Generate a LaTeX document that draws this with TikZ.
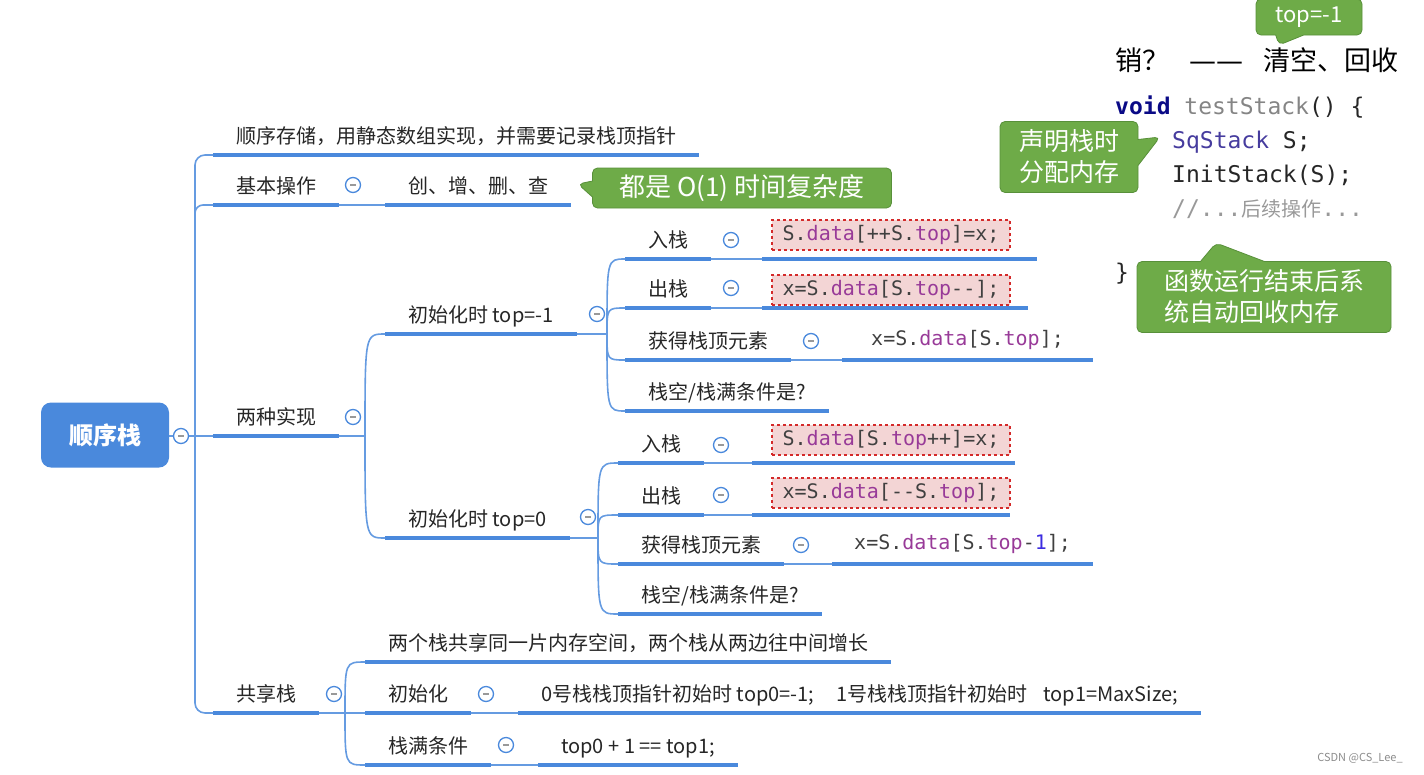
\documentclass[tikz,border=0pt]{standalone}
\usepackage{fontspec}
\setmainfont{Noto Sans CJK SC}
\newfontfamily\cjk{Noto Sans CJK SC}
\newfontfamily\dashfont{DejaVu Sans}
\newfontfamily\codefont[Ligatures=TeXOff]{DejaVu Sans Mono}
\usetikzlibrary{shapes.callouts}

\definecolor{mapblue}{HTML}{4A89DC}
\definecolor{notegreen}{HTML}{6EAB48}
\definecolor{noteedge}{HTML}{58903A}
\definecolor{boxpink}{HTML}{F3D5D5}
\definecolor{boxred}{HTML}{D42A2A}
\definecolor{kwpurple}{HTML}{983A98}
\definecolor{numblue}{HTML}{3C2CE0}
\definecolor{kwnavy}{HTML}{0A0A86}
\definecolor{typepurple}{HTML}{463C9E}
\definecolor{codegray}{HTML}{858585}

\newcommand\kwd[1]{\textcolor{kwpurple}{#1}}

\begin{document}
\begin{tikzpicture}[x=1pt,y=-1pt,
	under/.style={draw=mapblue, line width=4.5pt},
	link/.style={draw=mapblue!85, line width=1.6pt},
	root/.style={rounded corners=10pt, fill=mapblue, text=white, minimum width=128pt, minimum height=65pt, font=\bfseries\fontsize{24pt}{28pt}\selectfont},
	topic/.style={anchor=south west, inner xsep=23pt, inner ysep=7.5pt, text height=15pt, text depth=4pt, text=black!85, font=\fontsize{20pt}{24pt}\selectfont, append after command={(\tikzlastnode.south west) edge[under] (\tikzlastnode.south east)}},
	codetopic/.style={topic, font=\codefont\fontsize{20pt}{24pt}\selectfont, inner xsep=27pt, inner ysep=9pt, text height=14pt, text depth=5pt, text=black!75},
	codebox/.style={draw=boxred, dashed, line width=1.1pt, fill=boxpink, minimum width=238pt, minimum height=30pt, inner sep=0pt, text height=14pt, text depth=4pt, text=black!75, font=\codefont\fontsize{20pt}{24pt}\selectfont},
	fold/.style={circle, draw=mapblue, line width=1.3pt, fill=white, minimum size=15pt, inner sep=0pt, path picture={\draw[black!40, line width=1.3pt] ([xshift=-3pt]path picture bounding box.center) -- ([xshift=3pt]path picture bounding box.center);}},
	note/.style={rectangle callout, fill=notegreen, draw=noteedge, line width=0.8pt, rounded corners=5pt, text=white, align=left, inner xsep=12pt, inner ysep=3pt, font=\fontsize{25pt}{31pt}\selectfont},
	codeline/.style={anchor=base west, inner sep=0pt, text=black!85, font=\codefont\fontsize{23pt}{28pt}\selectfont}
	]
	\useasboundingbox (0,0) rectangle (1424,774);
	
	% root and main trunk
	\node[root] (root) at (105,435) {顺序栈};
	\coordinate (trunk) at (195,436);
	
	\node[topic] (store) at (213,155) {顺序存储，用静态数组实现，并需要记录栈顶指针};
	\node[topic] (basic) at (213,205) {基本操作};
	\node[topic] (impl) at (213,436) {两种实现};
	\node[topic] (share) at (213,713) {共享栈};
	
	\draw[link, rounded corners=10pt] (store.south west) -| (trunk) |- (share.south west);
	\draw[link, rounded corners=8pt] (trunk |- impl.south west) |- (basic.south west);
	\draw[link] (root.east |- trunk) -- (trunk) -- (impl.south west);
	\node[fold] (f-root) at (181,436) {};
	
	% basic operations
	\node[topic] (crud) at (385,205) {创、增、删、查};
	\draw[link] (basic.south east) -- (crud.south west);
	\node[fold] (f-basic) at (353,185) {};
	
	% two implementations
	\coordinate (j-impl) at (365,436);
	\node[topic] (init1) at (385,334) {初始化时 top=-1};
	\node[topic] (init2) at (385,538) {初始化时 top=0};
	\draw[link] (impl.south east) -- (j-impl);
	\draw[link] (j-impl) .. controls (j-impl |- init1.south west) .. (init1.south west);
	\draw[link] (j-impl) .. controls (j-impl |- init2.south west) .. (init2.south west);
	\node[fold] (f-impl) at (353,417) {};
	
	% top=-1
	\coordinate (j-init1) at (607,334);
	\node[topic] (push1) at (625,259) {入栈};
	\node[topic] (pop1) at (625,308) {出栈};
	\node[topic] (get1) at (625,360) {获得栈顶元素};
	\node[topic] (cond1) at (625,411) {栈空/栈满条件是?};
	\draw[link] (init1.south east) -- (j-init1);
	\foreach \c in {push1,pop1,get1,cond1}
	\draw[link] (j-init1) .. controls (j-init1 |- \c.south west) .. (\c.south west);
	\node[fold] (f-init1) at (597,314) {};
	
	\coordinate (push1-l) at (762,259);
	\coordinate (push1-r) at (1037,259);
	\coordinate (pop1-l) at (762,308);
	\coordinate (pop1-r) at (1028,308);
	\draw[under] (push1-l) -- (push1-r);
	\draw[under] (pop1-l) -- (pop1-r);
	\draw[link] (push1.south east) -- (push1-l);
	\draw[link] (pop1.south east) -- (pop1-l);
	\node[codebox] (push1-code) at (891,235) {S.\kwd{data}[++S.\kwd{top}]=x;};
	\node[codebox] (pop1-code) at (891,290) {x=S.\kwd{data}[S.\kwd{top}--];};
	\node[codetopic, inner xsep=29pt] (get1-code) at (842,360) {x=S.\kwd{data}[S.\kwd{top}];};
	\draw[link] (get1.south east) -- (get1-code.south west);
	\node[fold] (f-push1) at (731,240) {};
	\node[fold] (f-pop1) at (731,288) {};
	\node[fold] (f-get1) at (811,341) {};
	
	% top=0
	\coordinate (j-init2) at (598,538);
	\node[topic] (push2) at (618,463) {入栈};
	\node[topic] (pop2) at (618,515) {出栈};
	\node[topic] (get2) at (618,564) {获得栈顶元素};
	\node[topic] (cond2) at (618,614) {栈空/栈满条件是?};
	\draw[link] (init2.south east) -- (j-init2);
	\foreach \c in {push2,pop2,get2,cond2}
	\draw[link] (j-init2) .. controls (j-init2 |- \c.south west) .. (\c.south west);
	\node[fold] (f-init2) at (588,517) {};
	
	\coordinate (push2-l) at (752,463);
	\coordinate (push2-r) at (1015,463);
	\coordinate (pop2-l) at (752,515);
	\coordinate (pop2-r) at (1010,515);
	\draw[under] (push2-l) -- (push2-r);
	\draw[under] (pop2-l) -- (pop2-r);
	\draw[link] (push2.south east) -- (push2-l);
	\draw[link] (pop2.south east) -- (pop2-l);
	\node[codebox] (push2-code) at (891,440) {S.\kwd{data}[S.\kwd{top}++]=x;};
	\node[codebox] (pop2-code) at (891,493) {x=S.\kwd{data}[--S.\kwd{top}];};
	\node[codetopic, inner xsep=22pt] (get2-code) at (832,564) {x=S.\kwd{data}[S.\kwd{top}-\textcolor{numblue}{1}];};
	\draw[link] (get2.south east) -- (get2-code.south west);
	\node[fold] (f-push2) at (721,445) {};
	\node[fold] (f-pop2) at (721,495) {};
	\node[fold] (f-get2) at (801,545) {};
	
	% shared stack
	\coordinate (j-share) at (345,713);
	\node[topic] (sh-desc) at (365,662) {两个栈共享同一片内存空间，两个栈从两边往中间增长};
	\node[topic] (sh-init) at (365,713) {初始化};
	\node[topic] (sh-full) at (365,765) {栈满条件};
	\draw[link] (share.south east) -- (sh-init.south west);
	\draw[link] (j-share) .. controls (j-share |- sh-desc.south west) .. (sh-desc.south west);
	\draw[link] (j-share) .. controls (j-share |- sh-full.south west) .. (sh-full.south west);
	\node[fold] (f-share) at (334,694) {};
	
	\node[topic] (sh-init-v) at (518,713) {0号栈栈顶指针初始时 top0=-1;\hspace{1.1em}1号栈栈顶指针初始时\hspace{0.8em}top1=MaxSize;};
	\node[topic] (sh-full-v) at (538,765) {top0 + 1 == top1;};
	\draw[link] (sh-init.south east) -- (sh-init-v.south west);
	\draw[link] (sh-full.south east) -- (sh-full-v.south west);
	\node[fold] (f-sh-init) at (486,694) {};
	\node[fold] (f-sh-full) at (506,745) {};
	
	% notes
	\coordinate (tip-o1) at (578,184);
	\node[note, minimum width=299pt, minimum height=40pt, font=\fontsize{26pt}{30pt}\selectfont, callout absolute pointer=(tip-o1), callout pointer width=16pt] (o1) at (742,188) {都是 O(1) 时间复杂度};
	
	% code on the right
	\node[anchor=west, inner sep=0pt, font=\fontsize{27pt}{30pt}\selectfont] (destroy) at (1115,60) {销？\hspace{20pt}{\dashfont ——}\hspace{20pt}清空、回收};
	\node[codeline] (code1) at (1115,114) {\textcolor{kwnavy}{\bfseries void} \textcolor{codegray}{testStack}() \{};
	\node[codeline] (code2) at (1172,148) {\textcolor{typepurple}{SqStack} S;};
	\node[codeline] (code3) at (1172,182) {InitStack(S);};
	\node[codeline, text=black!40] (code4) at (1172,216) {//...{\cjk\fontsize{20pt}{24pt}\selectfont 后续操作}...};
	\node[codeline] (code5) at (1115,280) {\}};
	
	\coordinate (tip-top) at (1279,45);
	\coordinate (tip-decl) at (1160,137);
	\coordinate (tip-free) at (1216,243);
	\node[note, minimum width=106pt, minimum height=36pt, font=\fontsize{22pt}{26pt}\selectfont, callout absolute pointer=(tip-top), callout pointer width=28pt] (top-note) at (1309,17) {top=-1};
	\node[note, minimum width=138pt, minimum height=71pt, callout absolute pointer=(tip-decl), callout pointer width=26pt] (decl-note) at (1069,157) {声明栈时\\分配内存};
	\node[note, minimum width=254pt, minimum height=71pt, callout absolute pointer=(tip-free), callout pointer width=64pt] (free-note) at (1264,297) {函数运行结束后系\\统自动回收内存};
	
	% watermark
	\node[font=\fontsize{11pt}{13pt}\selectfont, text=black!45] (mark) at (1360,758) {CSDN @CS\_Lee\_};
\end{tikzpicture}
\end{document}
